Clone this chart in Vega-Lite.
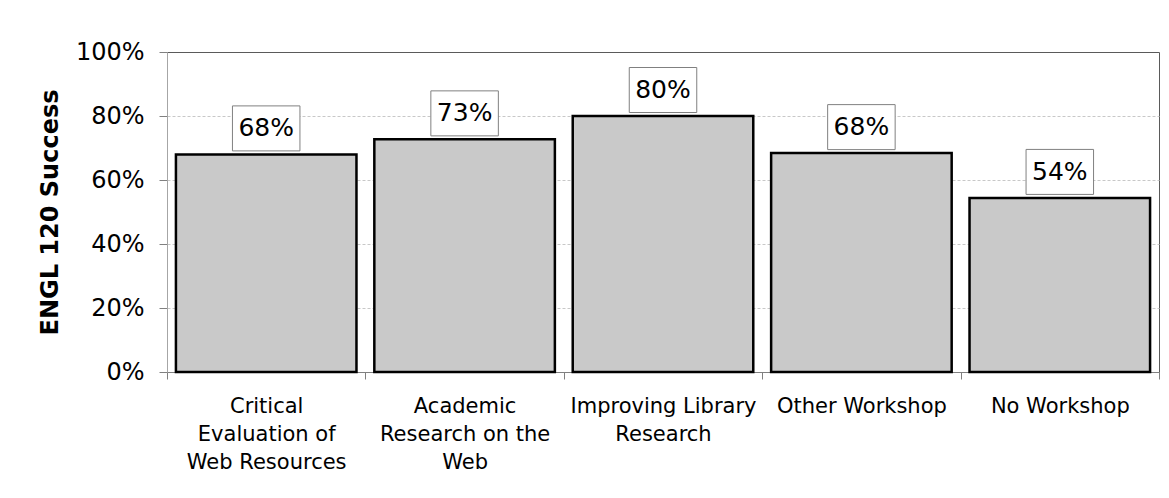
{
  "$schema": "https://vega.github.io/schema/vega-lite/v6.json",
  "width": 992,
  "height": 320,
  "autosize": {"type": "none"},
  "padding": {"left": 167, "top": 52, "right": 10, "bottom": 126},
  "background": "white",
  "config": {
    "font": "DejaVu Sans",
    "view": {"stroke": "#5a5a5a", "strokeWidth": 1}
  },
  "data": {
    "values": [
      {"workshop": "Critical Evaluation of Web Resources", "success": 0.68},
      {"workshop": "Academic Research on the Web", "success": 0.727},
      {"workshop": "Improving Library Research", "success": 0.8},
      {"workshop": "Other Workshop", "success": 0.684},
      {"workshop": "No Workshop", "success": 0.544}
    ]
  },
  "encoding": {
    "x": {
      "field": "workshop",
      "type": "nominal",
      "sort": null,
      "scale": {"paddingInner": 0, "paddingOuter": 0},
      "axis": {
        "title": null,
        "labelAngle": 0,
        "labelFont": "DejaVu Sans",
        "labelFontSize": 21,
        "labelColor": "black",
        "labelLineHeight": 28,
        "labelBaseline": "top",
        "labelPadding": 16,
        "labelLimit": 0,
        "labelExpr": "datum.value == 'Critical Evaluation of Web Resources' ? ['Critical', 'Evaluation of', 'Web Resources'] : datum.value == 'Academic Research on the Web' ? ['Academic', 'Research on the', 'Web'] : datum.value == 'Improving Library Research' ? ['Improving Library', 'Research'] : datum.value",
        "tickBand": "extent",
        "tickSize": 7,
        "tickColor": "#808080",
        "domainColor": "#808080",
        "grid": false
      }
    },
    "y": {
      "field": "success",
      "type": "quantitative",
      "scale": {"domain": [0, 1], "nice": false},
      "axis": {
        "title": "ENGL 120 Success",
        "titleFont": "DejaVu Sans",
        "titleFontSize": 24,
        "titleFontWeight": "bold",
        "titleColor": "black",
        "titleAngle": -90,
        "titleAlign": "center",
        "titleBaseline": "middle",
        "titleX": -117,
        "titleY": 160,
        "values": [0, 0.2, 0.4, 0.6, 0.8, 1],
        "format": ".0%",
        "labelFont": "DejaVu Sans",
        "labelFontSize": 24,
        "labelColor": "black",
        "labelPadding": 15,
        "tickSize": 8,
        "tickColor": "#808080",
        "domainColor": "#a6a6a6",
        "grid": true,
        "gridColor": "#c8c8c8",
        "gridDash": [3, 2],
        "gridOpacity": {
          "condition": {"test": "datum.value == 0 || datum.value == 1", "value": 0},
          "value": 1
        }
      }
    }
  },
  "layer": [
    {
      "mark": {
        "type": "bar",
        "width": {"band": 0.91},
        "fill": "#c9c9c9",
        "stroke": "black",
        "strokeWidth": 2.5
      }
    },
    {
      "mark": {
        "type": "point",
        "shape": "M-1.5,-1H1.5V1H-1.5Z",
        "size": 2025,
        "filled": true,
        "fill": "white",
        "stroke": "#808080",
        "strokeWidth": 1,
        "opacity": 1,
        "yOffset": -26
      }
    },
    {
      "mark": {
        "type": "text",
        "font": "DejaVu Sans",
        "fontSize": 25,
        "color": "black",
        "baseline": "middle",
        "align": "center",
        "yOffset": -26
      },
      "encoding": {
        "text": {"field": "success", "type": "quantitative", "format": ".0%"}
      }
    }
  ]
}
